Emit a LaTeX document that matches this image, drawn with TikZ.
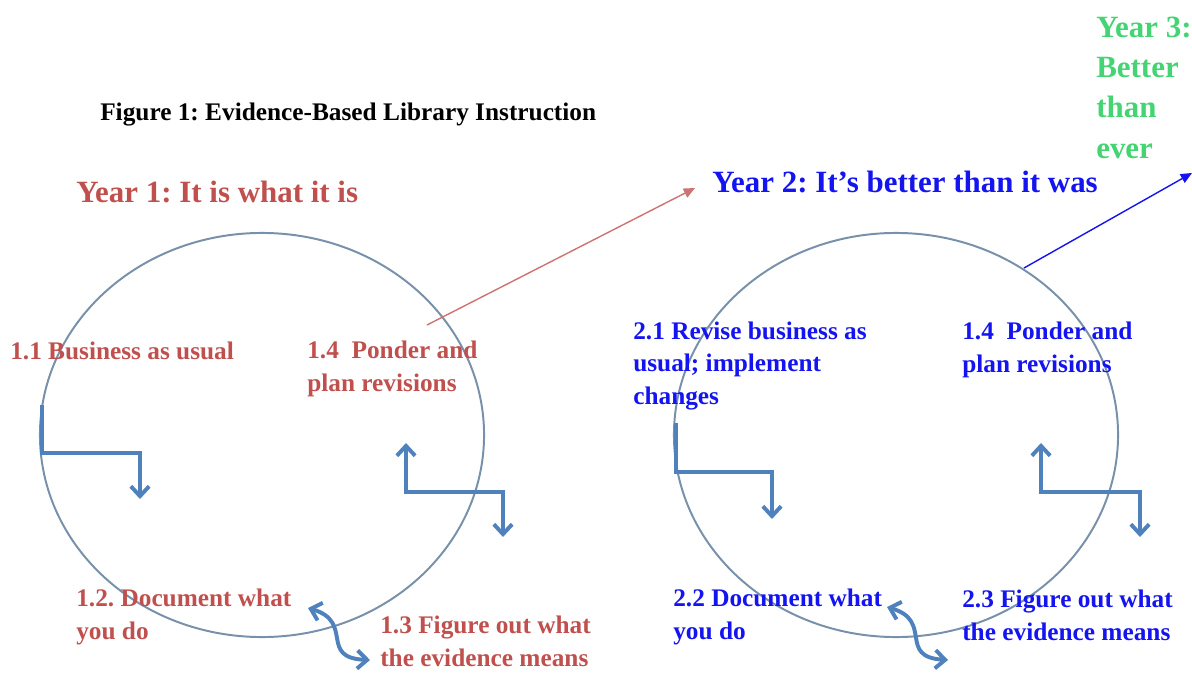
\documentclass[tikz,border=0pt]{standalone}
\usepackage{fontspec}
\setmainfont{Liberation Serif}
\usepackage{tikz}
\usetikzlibrary{arrows.meta,positioning,shapes.geometric}
\frenchspacing
\definecolor{ringgray}{HTML}{7891AA}
\definecolor{flowblue}{HTML}{4F81BD}
\definecolor{yrone}{HTML}{C0504D}
\definecolor{yrtwo}{HTML}{1414F0}
\definecolor{yrthree}{HTML}{44D474}
\tikzset{
  cyclering/.style={
    ellipse, draw=ringgray, line width=1.4pt,
    minimum width=11.1cm, minimum height=10.1cm, inner sep=0pt
  },
  % multi-line labels sit on the baseline of their last line
  steplabel/.style={
    font=\fontsize{18}{22.8}\selectfont\bfseries, text=#1,
    align=left, anchor=base west, inner sep=0pt
  },
  steplabel/.default=yrone,
  yearlabel/.style={
    font=\fontsize{22}{28.5}\selectfont\bfseries, text=#1,
    align=left, anchor=base west, inner sep=0pt
  },
  yearlabel/.default=yrone,
  flowarrow/.style={
    draw=flowblue, line width=2.8pt,
    >={Straight Barb[length=7pt,width=13pt]}
  },
  nextyear/.style={
    draw=#1, line width=1pt, -{Triangle[length=8pt,width=7pt]}
  },
}

\begin{document}
\begin{tikzpicture}[x=0.025cm, y=-0.025cm]
  \useasboundingbox (0,0) rectangle (1192,672);

  \node[anchor=base west, inner sep=0pt, font=\fontsize{18}{22}\selectfont\bfseries]
    (title) at (100,120) {Figure 1: Evidence-Based Library Instruction};

  % year one
  \node[yearlabel=yrone] (year1) at (76,202) {Year 1: It is what it is};
  \node[cyclering] (ring1) at (262,435) {};
  \node[steplabel] (s11) at (10,359) {1.1 Business as usual};
  \node[steplabel] (s14) at (307,391) {1.4\ \ Ponder and\\plan revisions};
  \node[steplabel] (s12) at (76,639) {1.2. Document what\\you do};
  \node[steplabel] (s13) at (380,666) {1.3 Figure out what\\the evidence means};

  \coordinate (a11) at (42,405);
  \coordinate (a12) at (140,499);
  \coordinate (a13) at (503,537);
  \coordinate (a14) at (406,443);
  \coordinate (w12) at (308,608);
  \coordinate (w13) at (370,660);
  \draw[flowarrow,->] (a11) |- (140,453) -- (a12);
  \draw[flowarrow,<->] (a14) |- (503,492) -- (a13);
  \draw[flowarrow,<->] (w12) .. controls (355,622) and (318,658) .. (w13);

  % year two
  \node[yearlabel=yrtwo] (year2) at (712,192) {Year 2: It’s better than it was};
  \coordinate (go2) at (427,325);
  \coordinate (at2) at (695,188);
  \draw[nextyear=yrone!80!white] (go2) -- (at2);
  \node[cyclering] (ring2) at (896,435) {};
  \node[steplabel=yrtwo] (s21) at (633,404) {2.1 Revise business as\\usual; implement\\changes};
  \node[steplabel=yrtwo] (s24) at (962,372) {1.4\ \ Ponder and\\plan revisions};
  \node[steplabel=yrtwo] (s22) at (673,639) {2.2 Document what\\you do};
  \node[steplabel=yrtwo] (s23) at (962,640) {2.3 Figure out what\\the evidence means};

  \coordinate (a21) at (676,423);
  \coordinate (a22) at (772,519);
  \coordinate (a23) at (1140,537);
  \coordinate (a24) at (1041,443);
  \coordinate (w22) at (887,607);
  \coordinate (w23) at (948,660);
  \draw[flowarrow,->] (a21) |- (772,472) -- (a22);
  \draw[flowarrow,<->] (a24) |- (1140,492) -- (a23);
  \draw[flowarrow,<->] (w22) .. controls (934,621) and (897,657) .. (w23);

  % year three
  \node[yearlabel=yrthree] (year3) at (1096,158) {Year 3:\\Better\\than\\ever};
  \coordinate (go3) at (1024,268);
  \coordinate (at3) at (1192,173);
  \draw[nextyear=yrtwo] (go3) -- (at3);
\end{tikzpicture}
\end{document}
